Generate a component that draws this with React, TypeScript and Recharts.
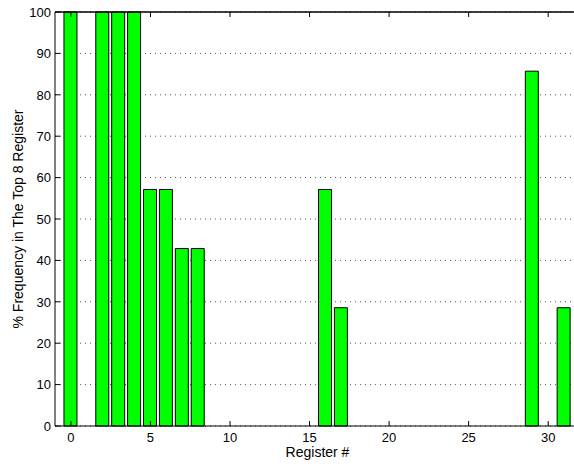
import React from 'react';
import { BarChart, Bar, XAxis, YAxis, CartesianGrid, Label, ReferenceLine } from 'recharts';

const registers = [0, 2, 3, 4, 5, 6, 7, 8, 16, 17, 29, 31];
const frequency = [100, 100, 100, 100, 57.14, 57.14, 42.86, 42.86, 57.14, 28.57, 85.71, 28.57];
const xTicks = [0, 5, 10, 15, 20, 25, 30];
const yTicks = [0, 10, 20, 30, 40, 50, 60, 70, 80, 90, 100];

const data = registers.map((r, i) => ({ reg: r, value: frequency[i] }));

const FONT = '"Liberation Sans", Arial, Helvetica, sans-serif';
const TOP = 12;
const BOTTOM = 426;
const LEFT = 55;

// MATLAB-style ticks point inward
const BottomTick = (props: any) => {
  const { x, payload } = props;
  return (
    <g>
      <line x1={x} x2={x} y1={BOTTOM} y2={BOTTOM - 5} stroke="#000" />
      <text x={x} y={BOTTOM + 16} textAnchor="middle" fontSize={13} fontFamily={FONT} fill="#000">
        {payload.value}
      </text>
    </g>
  );
};

const TopTick = (props: any) => {
  const { x } = props;
  return <line x1={x} x2={x} y1={TOP} y2={TOP + 5} stroke="#000" />;
};

const LeftTick = (props: any) => {
  const { y, payload } = props;
  return (
    <g>
      <line x1={LEFT} x2={LEFT + 5} y1={y} y2={y} stroke="#000" />
      <text x={LEFT - 4} y={y + 4.7} textAnchor="end" fontSize={13} fontFamily={FONT} fill="#000">
        {payload.value}
      </text>
    </g>
  );
};

export default function App() {
  return (
    <div style={{ position: 'absolute', left: 0, top: 0, width: 574, height: 466, overflow: 'hidden', background: '#fff' }}>
      <BarChart width={600} height={466} data={data} margin={{ top: TOP - 1, right: 20, bottom: 0, left: 0 }}>
        <CartesianGrid vertical={false} stroke="#555" strokeDasharray="1 4" />
        <XAxis
          dataKey="reg"
          type="number"
          domain={[-1, 32]}
          ticks={xTicks}
          height={40}
          tickLine={false}
          tickSize={0}
          axisLine={{ stroke: '#000' }}
          tick={<BottomTick />}
          interval={0}
        >
          <Label
            content={() => (
              <text x={317.5} y={457} textAnchor="middle" fontSize={14} fontFamily={FONT} fill="#000">
                Register #
              </text>
            )}
          />
        </XAxis>
        <XAxis
          xAxisId="top"
          orientation="top"
          dataKey="reg"
          type="number"
          domain={[-1, 32]}
          ticks={xTicks}
          height={1}
          tickLine={false}
          tickSize={0}
          axisLine={{ stroke: '#000' }}
          tick={<TopTick />}
          interval={0}
        />
        <YAxis
          type="number"
          domain={[0, 100]}
          ticks={yTicks}
          width={LEFT}
          tickLine={false}
          tickSize={0}
          axisLine={{ stroke: '#000' }}
          tick={<LeftTick />}
          interval={0}
        >
          <Label
            content={() => (
              <text
                transform="translate(23,219) rotate(-90)"
                textAnchor="middle"
                fontSize={14}
                fontFamily={FONT}
                fill="#000"
              >
                % Frequency in The Top 8 Register
              </text>
            )}
          />
        </YAxis>
        <Bar dataKey="value" fill="#00ff00" stroke="#000" strokeWidth={1} barSize={13} isAnimationActive={false} />
        <ReferenceLine y={100} stroke="#000" ifOverflow="visible" />
      </BarChart>
    </div>
  );
}
